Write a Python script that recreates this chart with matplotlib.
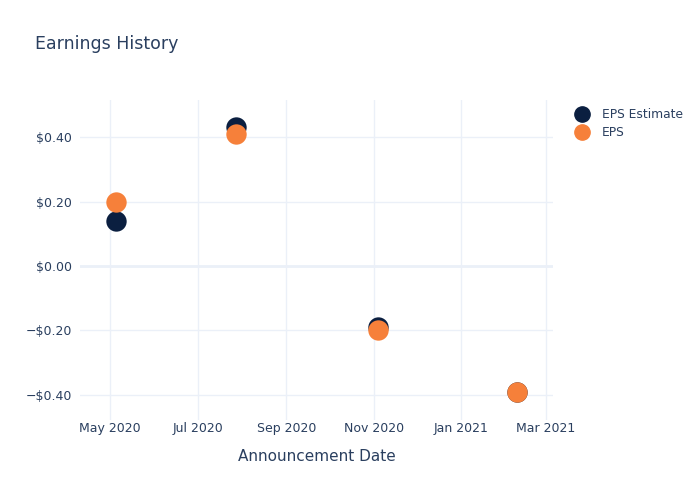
import numpy as np
import matplotlib
matplotlib.use('Agg')
import matplotlib.pyplot as plt
import matplotlib.dates as mdates
from matplotlib.lines import Line2D
from matplotlib.ticker import FuncFormatter

dates = np.array(['2020-05-05', '2020-07-28', '2020-11-04', '2021-02-09'], dtype='datetime64[D]')
eps_estimate = [0.14, 0.43, -0.19, -0.39]
eps_actual = [0.20, 0.41, -0.20, -0.39]

text_col = '#2a3f5f'
grid_col = '#ebf0f8'
navy = '#0b1f40'
orange = '#f6803a'

fig = plt.figure(figsize=(7, 5), dpi=100)
ax = fig.add_axes([80/700, 1-420/500, 473/700, 320/500])

ax.scatter(dates, eps_estimate, s=215, color=navy, zorder=3, linewidths=0)
ax.scatter(dates, eps_actual, s=215, color=orange, zorder=4, linewidths=0)

ax.set_xlim(np.datetime64('2020-04-10'), np.datetime64('2021-03-06'))
ax.set_ylim(-0.478, 0.515)

ax.xaxis.set_major_locator(mdates.MonthLocator(bymonth=[1, 3, 5, 7, 9, 11]))
ax.xaxis.set_major_formatter(mdates.DateFormatter('%b %Y'))
ax.set_yticks([-0.4, -0.2, 0.0, 0.2, 0.4])
ax.yaxis.set_major_formatter(FuncFormatter(
    lambda v, p: ('\u2212$%.2f' % abs(v)) if v < -1e-9 else '$%.2f' % abs(v)))

ax.grid(True, color=grid_col, linewidth=1)
ax.axhline(0, color=grid_col, linewidth=2, zorder=1)
ax.set_axisbelow(True)
for s in ax.spines.values():
    s.set_visible(False)
ax.tick_params(length=0, labelsize=9, colors=text_col)
ax.tick_params(axis='x', pad=1.5)
ax.tick_params(axis='y', pad=6)

ax.set_xlabel('Announcement Date', fontsize=11, color=text_col, labelpad=10)
fig.text(35/700, 1-44/500, 'Earnings History', fontsize=12.5, color=text_col, va='center')

handles = [
    Line2D([], [], marker='o', linestyle='', markersize=11, color=navy, label='EPS Estimate'),
    Line2D([], [], marker='o', linestyle='', markersize=11, color=orange, label='EPS'),
]
leg = fig.legend(handles=handles, loc='upper left', bbox_to_anchor=(570/700, 1-108/500),
                 frameon=False, fontsize=8.8, handletextpad=0.6, labelspacing=0.42,
                 borderaxespad=0, borderpad=0)
for t in leg.get_texts():
    t.set_color(text_col)

fig.savefig('out.png', dpi=100)
